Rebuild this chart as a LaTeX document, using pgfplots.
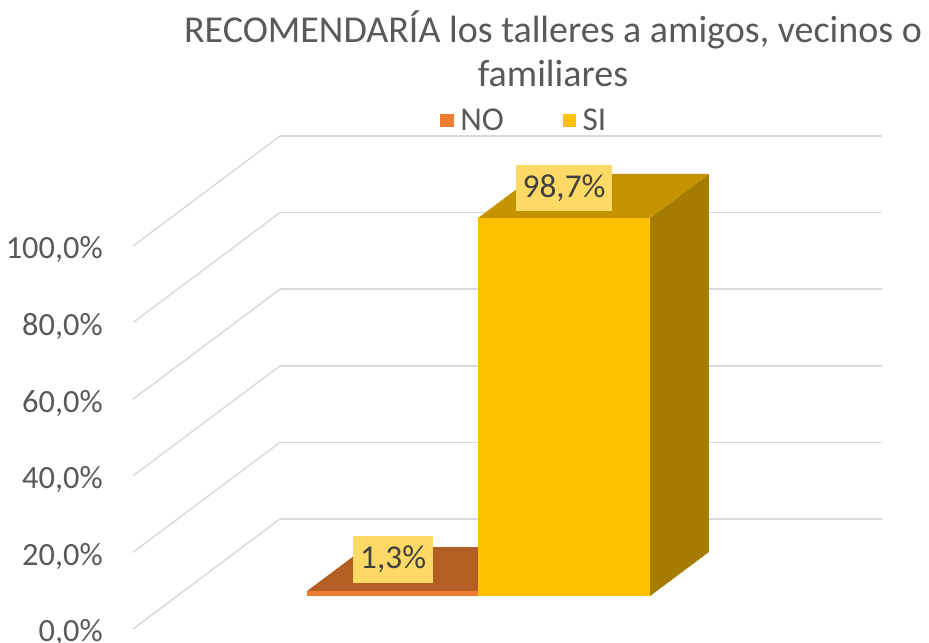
\documentclass[border=0pt]{standalone}
\usepackage{pgfplots}
\pgfplotsset{compat=1.18}
\usepackage{fontspec}
\setmainfont{Carlito}
\definecolor{txt}{HTML}{595959}
\definecolor{gridc}{HTML}{D9D9D9}
\definecolor{nofront}{HTML}{ED7D31}
\definecolor{notop}{HTML}{B45E23}
\definecolor{sifront}{HTML}{FFC000}
\definecolor{sitop}{HTML}{C59300}
\definecolor{siside}{HTML}{A67C00}
\definecolor{lblbox}{HTML}{FFD966}
\definecolor{lbltxt}{HTML}{404040}
\begin{document}
\begin{tikzpicture}
\begin{axis}[
  x={(0.75pt,0pt)}, y={(110.25pt,82.5pt)}, z={(0pt,2.8725pt)},
  xmin=0, xmax=602, ymin=0, ymax=1, zmin=0, zmax=100,
  clip=false,
  axis line style={draw=none},
  major tick length=0pt,
  xtick=\empty, ytick=\empty,
  ztick={0,20,40,60,80,100},
  zticklabels={{0,0\%},{20,0\%},{40,0\%},{60,0\%},{80,0\%},{100,0\%}},
  xmajorgrids=false, ymajorgrids=false, zmajorgrids=true,
  grid style={draw=gridc, line width=1.1pt},
  tick label style={font=\fontsize{24.3}{28}\selectfont, text=txt},
  zticklabel style={anchor=east, inner sep=0pt, xshift=-22.5pt, yshift=-3pt},
  legend columns=2,
  legend style={draw=none, fill=none, at={(0.523,1.032)}, anchor=center,
    font=\fontsize{25}{28}\selectfont, text=txt,
    /tikz/every odd column/.append style={column sep=3pt},
    /tikz/every even column/.append style={column sep=42pt}},
  legend image code/.code={\fill[#1] (0pt,-5pt) rectangle (10pt,5pt);},
]
\addlegendimage{fill=nofront, draw=none}
\addlegendentry{NO}
\addlegendimage{fill=sifront, draw=none}
\addlegendentry{SI}
% NO bar (value 1.3)
\addplot3[fill=notop, draw=none, forget plot] coordinates {(130,0.3,1.3) (301,0.3,1.3) (301,0.7,1.3) (130,0.7,1.3)};
\addplot3[fill=nofront, draw=none, forget plot] coordinates {(130,0.3,0) (301,0.3,0) (301,0.3,1.3) (130,0.3,1.3)};
% SI bar (value 98.7)
\addplot3[fill=siside, draw=none, forget plot] coordinates {(473,0.3,0) (473,0.7,0) (473,0.7,98.7) (473,0.3,98.7)};
\addplot3[fill=sitop, draw=none, forget plot] coordinates {(301,0.3,98.7) (473,0.3,98.7) (473,0.7,98.7) (301,0.7,98.7)};
\addplot3[fill=sifront, draw=none, forget plot] coordinates {(301,0.3,0) (473,0.3,0) (473,0.3,98.7) (301,0.3,98.7)};
% data labels
\node[fill=lblbox, text=lbltxt, font=\fontsize{25}{28}\selectfont, minimum width=72pt, minimum height=35pt, inner sep=0pt] at (axis cs:387,0.3,106.5) {98,7\%};
\node[fill=lblbox, text=lbltxt, font=\fontsize{25}{28}\selectfont, minimum width=60pt, minimum height=35pt, inner sep=0pt] at (axis cs:216,0.3,9.5) {1,3\%};
\coordinate (O) at (axis cs:0,0,0);
\end{axis}
\node[font=\fontsize{28.5}{33}\selectfont, text=txt, align=center] at ([shift={(315pt,435pt)}]O) {RECOMENDARÍA los talleres a amigos, vecinos o\\familiares};
\pgfresetboundingbox
\path[use as bounding box] ([shift={(-99.75pt,-10.5pt)}]O) rectangle ([shift={(597pt,471.75pt)}]O);
\end{tikzpicture}
\end{document}
